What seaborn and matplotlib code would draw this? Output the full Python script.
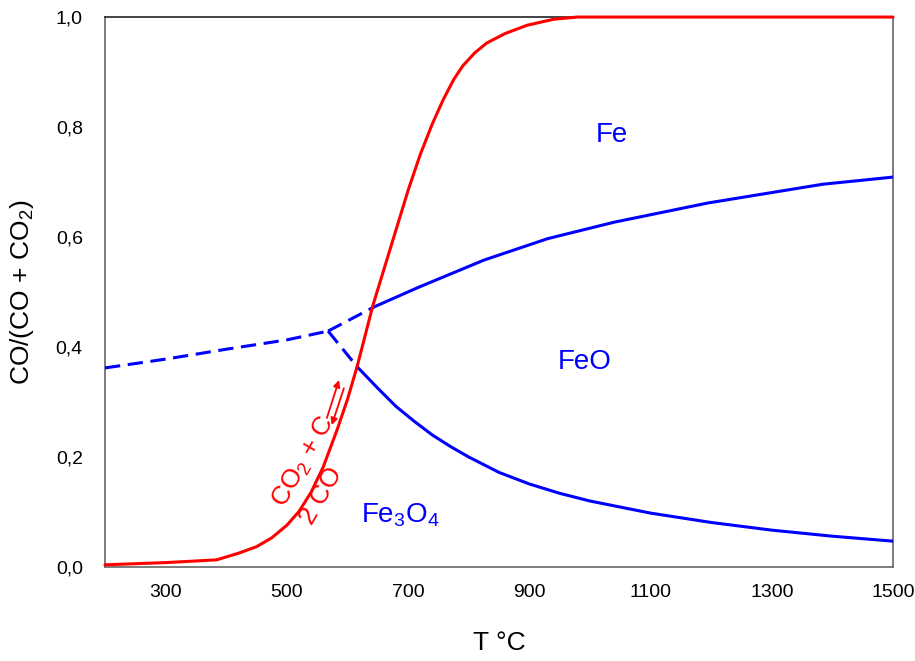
import matplotlib
matplotlib.use("Agg")
import matplotlib.pyplot as plt
import seaborn as sns
import numpy as np
from matplotlib.ticker import FixedLocator, FuncFormatter

# Boudouard equilibrium (red)
boud_T = [200, 300, 384, 420, 450, 475, 500, 520, 540, 560, 583, 600, 616, 642,
          700, 720, 740, 758, 775, 790, 810, 830, 860, 896, 940, 979, 1500]
boud_v = [0.004, 0.008, 0.013, 0.025, 0.037, 0.053, 0.076, 0.101, 0.136, 0.182,
          0.250, 0.305, 0.365, 0.476, 0.685, 0.750, 0.806, 0.850, 0.886, 0.911,
          0.935, 0.953, 0.970, 0.985, 0.996, 1.0, 1.0]

# Fe3O4/Fe below 570 C (dashed)
fe3o4_fe_T = [200, 300, 400, 500, 568]
fe3o4_fe_v = [0.362, 0.378, 0.396, 0.413, 0.429]
# metastable continuations (dashed)
feo_fe_dash_T = [568, 644]
feo_fe_dash_v = [0.429, 0.473]
fe3o4_feo_dash_T = [568, 616]
fe3o4_feo_dash_v = [0.429, 0.364]

# FeO/Fe (solid)
feo_fe_T = [644, 718, 825, 930, 1040, 1195, 1384, 1500]
feo_fe_v = [0.473, 0.509, 0.558, 0.597, 0.627, 0.662, 0.696, 0.709]
# Fe3O4/FeO (solid)
fe3o4_feo_T = [616, 650, 680, 710, 740, 770, 800, 850, 900, 950, 1000, 1100,
               1200, 1300, 1400, 1500]
fe3o4_feo_v = [0.364, 0.325, 0.292, 0.265, 0.240, 0.219, 0.200, 0.172, 0.151,
               0.134, 0.120, 0.098, 0.081, 0.067, 0.056, 0.047]

x_ticks = [300, 500, 700, 900, 1100, 1300, 1500]
y_ticks = [0.0, 0.2, 0.4, 0.6, 0.8, 1.0]

sns.set_style("white")
plt.rcParams['font.family'] = ['Liberation Sans', 'DejaVu Sans']
plt.rcParams['mathtext.fontset'] = 'custom'
plt.rcParams['mathtext.rm'] = 'Liberation Sans'
plt.rcParams['mathtext.it'] = 'Liberation Sans'
plt.rcParams['text.color'] = 'black'
plt.rcParams['axes.labelcolor'] = 'black'

fig = plt.figure(figsize=(9.15, 6.61), dpi=100)
ax = fig.add_axes([0.1148, 0.1422, 0.8612, 0.8320])

red = "#ff0000"
blue = "#0000ff"
lw = 2.2
dash = (5, 2.5)

sns.lineplot(x=boud_T, y=boud_v, color=red, lw=lw, sort=False, estimator=None, ax=ax,
             clip_on=False, zorder=5)
for T, v in [(fe3o4_fe_T, fe3o4_fe_v), (feo_fe_dash_T, feo_fe_dash_v),
             (fe3o4_feo_dash_T, fe3o4_feo_dash_v)]:
    sns.lineplot(x=T, y=v, color=blue, lw=lw, sort=False, estimator=None, ax=ax,
                 dashes=False, linestyle=(0, dash), zorder=4)
for T, v in [(feo_fe_T, feo_fe_v), (fe3o4_feo_T, fe3o4_feo_v)]:
    sns.lineplot(x=T, y=v, color=blue, lw=lw, sort=False, estimator=None, ax=ax, zorder=4)

ax.set_xlim(200, 1500)
ax.set_ylim(0, 1.0)

ax.xaxis.set_major_locator(FixedLocator(x_ticks))
ax.xaxis.set_minor_locator(FixedLocator(np.arange(220, 1500, 40)))
ax.yaxis.set_major_locator(FixedLocator(y_ticks))
ax.yaxis.set_minor_locator(FixedLocator(np.arange(0.1, 1.0, 0.2)))
ax.yaxis.set_major_formatter(FuncFormatter(lambda v, p: f"{v:.1f}".replace(".", ",")))

ax.tick_params(axis="x", which="major", direction="out", length=8, width=1,
               color="#555555", pad=4, labelsize=14, labelcolor="black")
ax.tick_params(axis="x", which="minor", direction="out", length=4, width=1, color="#555555")
ax.tick_params(axis="y", which="major", direction="inout", length=8, width=1,
               color="#555555", pad=12, labelsize=14, labelcolor="black")
ax.tick_params(axis="y", which="minor", direction="out", length=4, width=1, color="#555555")

for s in ["left", "bottom", "right"]:
    ax.spines[s].set_color("#666666")
    ax.spines[s].set_linewidth(1.2)
ax.spines["top"].set_color("#222222")
ax.spines["top"].set_linewidth(1.2)

ax.set_xlabel("T °C", fontsize=19, labelpad=22)
ax.set_ylabel("CO/(CO + CO$_2$)", fontsize=19, labelpad=14)

ax.text(1036, 0.785, "Fe", color=blue, fontsize=20, ha="center", va="center")
ax.text(992, 0.373, "FeO", color=blue, fontsize=20, ha="center", va="center")
ax.text(687, 0.095, "Fe$_3$O$_4$", color=blue, fontsize=20, ha="center", va="center")

ax.text(528, 0.191, "CO$_2$ + C", color=red, fontsize=19, rotation=60,
        ha="center", va="center", rotation_mode="anchor")
ax.text(557, 0.130, "2 CO", color=red, fontsize=19, rotation=60,
        ha="center", va="center", rotation_mode="anchor")
ax.annotate("", xy=(586, 0.340), xytext=(566, 0.271),
            arrowprops=dict(arrowstyle="-|>", color=red, lw=1.3, mutation_scale=10,
                            shrinkA=0, shrinkB=0))
ax.annotate("", xy=(574, 0.258), xytext=(594, 0.325),
            arrowprops=dict(arrowstyle="-|>", color=red, lw=1.3, mutation_scale=10,
                            shrinkA=0, shrinkB=0))

fig.savefig("out.png", dpi=100)
